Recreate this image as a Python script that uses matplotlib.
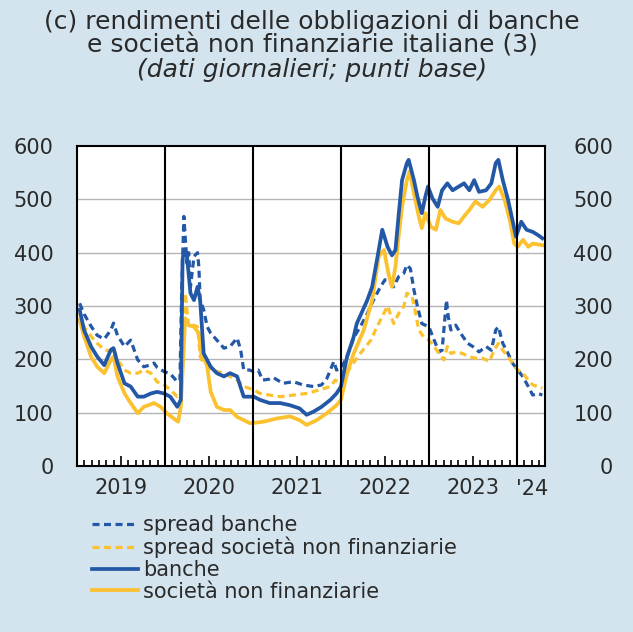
import matplotlib
matplotlib.use('Agg')
import matplotlib.pyplot as plt

plt.rcParams['font.family'] = ['DejaVu Sans']

# spread banche (decimal year, basis points)
t_spread_banche = [2019.03, 2019.08, 2019.16, 2019.23, 2019.31, 2019.385, 2019.415, 2019.46, 2019.54, 2019.61,
                   2019.69, 2019.76, 2019.84, 2019.875, 2019.91, 2019.99, 2020.06, 2020.14, 2020.17, 2020.19,
                   2020.215, 2020.23, 2020.25, 2020.27, 2020.29, 2020.33, 2020.37, 2020.385, 2020.40, 2020.44,
                   2020.48, 2020.52, 2020.59, 2020.67, 2020.74, 2020.82, 2020.86, 2020.895, 2020.96, 2021.01,
                   2021.06, 2021.11, 2021.19, 2021.23, 2021.34, 2021.46, 2021.57, 2021.69, 2021.78, 2021.84,
                   2021.92, 2021.95, 2022.0, 2022.07, 2022.15, 2022.22, 2022.30, 2022.37, 2022.45, 2022.50,
                   2022.54, 2022.60, 2022.656, 2022.714, 2022.75, 2022.79, 2022.83, 2022.87, 2022.92, 2023.0,
                   2023.06, 2023.115, 2023.15, 2023.20, 2023.22, 2023.25, 2023.305, 2023.36, 2023.44, 2023.50,
                   2023.57, 2023.65, 2023.71, 2023.76, 2023.79, 2023.84, 2023.90, 2023.95, 2024.01, 2024.07,
                   2024.13, 2024.18, 2024.24, 2024.29]
v_spread_banche = [305, 285, 262, 245, 238, 255, 268, 245, 224, 236,
                   199, 186, 190, 193, 185, 177, 173, 158, 160, 330,
                   468, 430, 380, 400, 336, 393, 400, 374, 311, 293,
                   261, 249, 236, 221, 224, 240, 218, 180, 180, 177,
                   180, 161, 163, 166, 155, 158, 152, 149, 152, 164,
                   196, 180, 183, 205, 242, 261, 286, 311, 336, 349,
                   349, 336, 355, 361, 377, 370, 330, 299, 267, 261,
                   236, 214, 217, 311, 280, 255, 264, 249, 230, 224,
                   214, 224, 217, 255, 261, 230, 211, 193, 180, 167,
                   149, 133, 136, 133]

# spread societa non finanziarie
t_spread_snf = [2019.03, 2019.08, 2019.16, 2019.23, 2019.31, 2019.385, 2019.415, 2019.46, 2019.54, 2019.61,
                2019.69, 2019.76, 2019.84, 2019.91, 2019.99, 2020.06, 2020.14, 2020.18, 2020.23, 2020.27,
                2020.33, 2020.37, 2020.40, 2020.48, 2020.52, 2020.67, 2020.82, 2020.895, 2021.01, 2021.08,
                2021.19, 2021.31, 2021.46, 2021.61, 2021.76, 2021.88, 2021.935, 2022.0, 2022.11, 2022.22,
                2022.34, 2022.41, 2022.47, 2022.53, 2022.60, 2022.656, 2022.714, 2022.75, 2022.81, 2022.85,
                2022.885, 2022.94, 2023.0, 2023.06, 2023.115, 2023.17, 2023.21, 2023.25, 2023.305, 2023.38,
                2023.46, 2023.53, 2023.61, 2023.69, 2023.74, 2023.79, 2023.84, 2023.90, 2023.95, 2024.01,
                2024.07, 2024.13, 2024.18, 2024.29]
v_spread_snf = [286, 261, 243, 230, 218, 215, 221, 199, 180, 174,
                174, 180, 174, 158, 152, 143, 130, 135, 324, 261,
                264, 261, 205, 193, 180, 174, 161, 149, 143, 136,
                133, 130, 133, 136, 143, 149, 161, 155, 186, 211,
                236, 261, 280, 300, 267, 286, 299, 324, 318, 286,
                255, 242, 236, 224, 211, 199, 224, 211, 214, 211,
                205, 202, 202, 196, 217, 230, 217, 205, 193, 180,
                174, 161, 152, 146]

# rendimenti banche
t_banche = [2019.03, 2019.08, 2019.16, 2019.23, 2019.31, 2019.385, 2019.415, 2019.46, 2019.54, 2019.61,
            2019.69, 2019.76, 2019.84, 2019.91, 2019.99, 2020.06, 2020.14, 2020.18, 2020.20, 2020.215,
            2020.25, 2020.29, 2020.33, 2020.37, 2020.40, 2020.42, 2020.44, 2020.52, 2020.59, 2020.67,
            2020.74, 2020.82, 2020.895, 2021.01, 2021.08, 2021.19, 2021.31, 2021.42, 2021.53, 2021.61,
            2021.69, 2021.78, 2021.88, 2021.95, 2022.0, 2022.07, 2022.145, 2022.18, 2022.30, 2022.355,
            2022.43, 2022.47, 2022.53, 2022.58, 2022.62, 2022.656, 2022.695, 2022.75, 2022.77, 2022.83,
            2022.87, 2022.92, 2022.96, 2022.99, 2023.04, 2023.10, 2023.15, 2023.21, 2023.27, 2023.34,
            2023.40, 2023.46, 2023.515, 2023.57, 2023.65, 2023.71, 2023.76, 2023.79, 2023.84, 2023.90,
            2023.95, 2023.99, 2024.05, 2024.11, 2024.18, 2024.24, 2024.29]
v_banche = [293, 255, 224, 205, 189, 218, 221, 193, 155, 149,
            130, 130, 136, 139, 136, 130, 111, 124, 386, 405,
            393, 324, 311, 336, 311, 261, 211, 186, 174, 168,
            174, 168, 130, 130, 124, 118, 118, 114, 108, 96,
            102, 111, 124, 136, 149, 205, 242, 267, 311, 336,
            405, 443, 411, 395, 405, 470, 536, 568, 574, 536,
            505, 474, 505, 524, 502, 486, 517, 530, 517, 524,
            530, 517, 536, 514, 517, 530, 568, 574, 536, 499,
            461, 430, 458, 443, 439, 433, 427]

# rendimenti societa non finanziarie
t_snf = [2019.03, 2019.08, 2019.16, 2019.23, 2019.31, 2019.385, 2019.415, 2019.46, 2019.54, 2019.61,
         2019.69, 2019.76, 2019.875, 2019.95, 2020.02, 2020.10, 2020.15, 2020.18, 2020.23, 2020.27,
         2020.33, 2020.385, 2020.42, 2020.44, 2020.48, 2020.52, 2020.59, 2020.67, 2020.74, 2020.82,
         2020.895, 2020.97, 2021.12, 2021.27, 2021.42, 2021.53, 2021.61, 2021.725, 2021.84, 2021.95,
         2022.0, 2022.07, 2022.145, 2022.26, 2022.355, 2022.43, 2022.49, 2022.54, 2022.58, 2022.62,
         2022.656, 2022.695, 2022.75, 2022.78, 2022.83, 2022.885, 2022.92, 2022.96, 2023.02, 2023.08,
         2023.13, 2023.19, 2023.27, 2023.34, 2023.40, 2023.46, 2023.53, 2023.61, 2023.69, 2023.76,
         2023.80, 2023.86, 2023.92, 2023.97, 2024.01, 2024.07, 2024.13, 2024.18, 2024.29]
v_snf = [274, 243, 205, 186, 174, 199, 205, 168, 136, 118,
         99, 111, 118, 111, 99, 89, 83, 111, 277, 264,
         261, 249, 199, 205, 186, 139, 111, 105, 105, 92,
         86, 80, 83, 89, 93, 86, 77, 86, 99, 114,
         124, 174, 211, 255, 311, 393, 405, 361, 336, 374,
         430, 486, 536, 552, 511, 468, 446, 474, 449, 443,
         480, 464, 458, 455, 468, 480, 496, 486, 499, 517,
         524, 499, 461, 417, 411, 424, 411, 417, 414]

years = [2019, 2020, 2021, 2022, 2023]
year_labels = ['2019', '2020', '2021', '2022', '2023']
y_ticks = [0, 100, 200, 300, 400, 500, 600]

blue = '#2358a6'
yellow = '#fbc12e'
bg = '#d3e4ee'
txt = '#2a2a2a'

fig = plt.figure(figsize=(6.33, 6.32), dpi=100, facecolor=bg)
ax = fig.add_axes([77 / 633, 1 - 466 / 632, 468 / 633, 320 / 632])
ax.set_facecolor('white')

dash = (0, (2.2, 1.4))
l1, = ax.plot(t_spread_banche, v_spread_banche, color=blue, lw=2.3, ls=dash)
l2, = ax.plot(t_spread_snf, v_spread_snf, color=yellow, lw=2.3, ls=dash)
l4, = ax.plot(t_snf, v_snf, color=yellow, lw=2.7)
l3, = ax.plot(t_banche, v_banche, color=blue, lw=2.7)

ax.set_xlim(2019.0, 2024.32)
ax.set_ylim(0, 600)
for y in y_ticks[1:-1]:
    ax.axhline(y, color='#b4b4b4', lw=1, zorder=0)
for yr in years[1:] + [2024]:
    ax.axvline(yr, color='black', lw=1.5, zorder=3)
for s in ax.spines.values():
    s.set_linewidth(1.5)

# x axis: monthly ticks inside, mid-year ticks longer, year labels centred
mid = [y + 0.5 for y in years]
months = [y + m / 12 for y in years + [2024] for m in range(1, 12) if m != 6 and y + m / 12 < 2024.32]
ax.set_xticks(mid)
ax.set_xticklabels(year_labels)
ax.set_xticks(months, minor=True)
ax.tick_params(axis='x', which='major', direction='in', length=7, width=1.2, pad=9, labelsize=15,
               colors='black', labelcolor=txt)
ax.tick_params(axis='x', which='minor', direction='in', length=4, width=1.2)
ax.text(2024.17, -13 / 320, "'24", transform=ax.get_xaxis_transform(), ha='center', va='top',
        fontsize=15, color=txt)

ax.set_yticks(y_ticks)
ax.tick_params(axis='y', length=0, pad=17, labelsize=15, labelcolor=txt)
ax2 = ax.twinx()
ax2.set_ylim(0, 600)
ax2.set_yticks(y_ticks)
ax2.tick_params(axis='y', length=0, pad=49, labelsize=15, labelcolor=txt)
for lab in ax2.get_yticklabels():
    lab.set_horizontalalignment('right')
for s in ax2.spines.values():
    s.set_visible(False)

# title
fig.text(312 / 633, 1 - 22 / 632, '(c) rendimenti delle obbligazioni di banche', ha='center', va='center',
         fontsize=18, color=txt)
fig.text(312 / 633, 1 - 46 / 632, 'e società non finanziarie italiane (3)', ha='center', va='center',
         fontsize=18, color=txt)
fig.text(312 / 633, 1 - 70 / 632, '(dati giornalieri; punti base)', ha='center', va='center',
         fontsize=18, style='italic', color=txt)

fig.legend([l1, l2, l3, l4],
           ['spread banche', 'spread società non finanziarie', 'banche', 'società non finanziarie'],
           loc='upper left', bbox_to_anchor=(92 / 633, 1 - 515 / 632), frameon=False, fontsize=15,
           handlelength=2.2, handletextpad=0.25, labelspacing=0.08, borderpad=0, borderaxespad=0,
           labelcolor=txt)

fig.savefig('out.png', dpi=100, facecolor=bg)
